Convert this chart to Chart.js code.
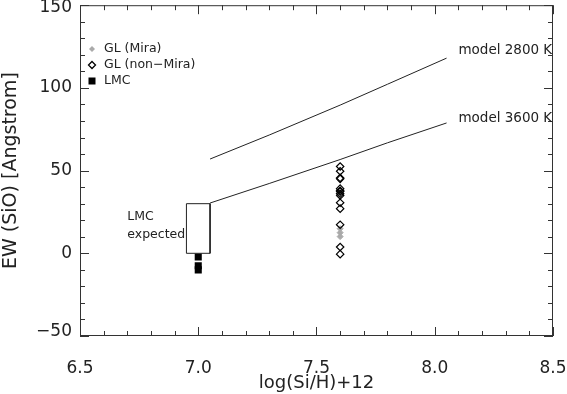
<!DOCTYPE html>
<html>
<head>
<meta charset="utf-8">
<script src="https://cdn.jsdelivr.net/npm/chart.js@4/dist/chart.umd.min.js"></script>
<style>
  html, body { margin: 0; padding: 0; background: #fff; }
  canvas { display: block; }
</style>
</head>
<body>
<canvas id="ewChart" width="567" height="394"></canvas>
<script>
// Model curves (log(Si/H)+12 vs EW)
const MODEL_X = [7.05, 7.3, 7.6, 7.8, 8.05];
const MODEL_2800_EW = [57, 71.5, 89.6, 102.2, 118];
const MODEL_3600_EW = [30.4, 42.2, 56.7, 66.8, 78.8];

// LMC expected range box
const BOX_X = [6.95, 6.95, 7.05, 7.05, 6.95];
const BOX_EW = [0, 30, 30, 0, 0];

// Galactic stars, all at solar Si abundance
const GL_X = 7.6;
const NONMIRA_EW = [52.5, 49.6, 45.6, 45, 39.1, 37.8, 37.3, 36, 34.9, 30.6, 27, 17.3, 3.8, -0.5];
const MIRA_EW = [14.9, 12.5, 10.1];

// LMC stars
const LMC_X = 7.0;
const LMC_EW = [-2.2, -7.5, -10];

const X_TICKS = [6.5, 7.0, 7.5, 8.0, 8.5];
const Y_TICKS = [-50, 0, 50, 100, 150];

const INK = "#222";
const FONT = "'DejaVu Sans', sans-serif";

const toPoints = (xs, ys) => xs.map((x, i) => ({ x: x, y: ys[i] }));

// no automatic label padding: the plot box is fixed like the original
const zeroPad = (s) => { s.paddingLeft = 0; s.paddingRight = 0; s.paddingTop = 0; s.paddingBottom = 0; };

// Box, inward ticks, y labels, legend and text labels
const framePlugin = {
  id: "frame",
  afterDraw(chart) {
    const { ctx, chartArea: a, scales: { x, y } } = chart;
    ctx.save();
    ctx.strokeStyle = "#333";
    ctx.lineWidth = 1;
    ctx.strokeRect(a.left + 0.5, a.top + 0.5, a.right - a.left - 1, a.bottom - a.top - 1);

    ctx.beginPath();
    for (let v = 6.5; v <= 8.5001; v += 0.1) {
      const px = Math.round(x.getPixelForValue(v)) + 0.5;
      const major = Math.abs(v * 2 - Math.round(v * 2)) < 1e-6;
      const len = major ? 9 : 5;
      ctx.moveTo(px, a.bottom); ctx.lineTo(px, a.bottom - len);
      ctx.moveTo(px, a.top); ctx.lineTo(px, a.top + len);
    }
    for (let v = -50; v <= 150; v += 10) {
      const py = Math.round(y.getPixelForValue(v)) + 0.5;
      const len = v % 50 === 0 ? 9 : 5;
      ctx.moveTo(a.left, py); ctx.lineTo(a.left + len, py);
      ctx.moveTo(a.right, py); ctx.lineTo(a.right - len, py);
    }
    ctx.stroke();

    // y tick labels, kept inside the canvas like the original
    ctx.fillStyle = INK;
    ctx.font = "17px " + FONT;
    ctx.textAlign = "right";
    ctx.textBaseline = "middle";
    Y_TICKS.forEach(v => {
      const py = Math.min(Math.max(y.getPixelForValue(v), 8), 332);
      ctx.fillText(v < 0 ? "\u2212" + Math.abs(v) : String(v), a.left - 8, py);
    });

    // legend
    ctx.textAlign = "left";
    ctx.font = "12.5px " + FONT;
    const lx = 92, ly = [49, 65, 81];
    ctx.fillStyle = "#aaa";
    ctx.beginPath();
    ctx.moveTo(lx, ly[0] - 3); ctx.lineTo(lx + 3, ly[0]); ctx.lineTo(lx, ly[0] + 3); ctx.lineTo(lx - 3, ly[0]);
    ctx.closePath(); ctx.fill();
    ctx.strokeStyle = "#000";
    ctx.lineWidth = 1.3;
    ctx.beginPath();
    ctx.moveTo(lx, ly[1] - 3.5); ctx.lineTo(lx + 3.5, ly[1]); ctx.lineTo(lx, ly[1] + 3.5); ctx.lineTo(lx - 3.5, ly[1]);
    ctx.closePath(); ctx.stroke();
    ctx.fillStyle = "#000";
    ctx.fillRect(lx - 3.5, ly[2] - 3.5, 7, 7);
    ctx.fillStyle = INK;
    ctx.fillText("GL (Mira)", 104, ly[0]);
    ctx.fillText("GL (non\u2212Mira)", 104, ly[1]);
    ctx.fillText("LMC", 104, ly[2]);

    // curve and box labels
    ctx.font = "13.5px " + FONT;
    ctx.fillText("model 2800 K", x.getPixelForValue(8.1), y.getPixelForValue(122.4));
    ctx.fillText("model 3600 K", x.getPixelForValue(8.1), y.getPixelForValue(81.8));
    ctx.font = "12.5px " + FONT;
    ctx.fillText("LMC", x.getPixelForValue(6.7), y.getPixelForValue(22));
    ctx.fillText("expected", x.getPixelForValue(6.7), y.getPixelForValue(11.3));
    ctx.restore();
  }
};

const lineSet = (data) => ({
  data: data,
  showLine: true,
  borderColor: INK,
  borderWidth: 1,
  pointRadius: 0,
  tension: 0,
});

new Chart(document.getElementById("ewChart"), {
  type: "scatter",
  data: {
    datasets: [
      lineSet(toPoints(MODEL_X, MODEL_2800_EW)),
      lineSet(toPoints(MODEL_X, MODEL_3600_EW)),
      lineSet(toPoints(BOX_X, BOX_EW)),
      {
        data: NONMIRA_EW.map(v => ({ x: GL_X, y: v })),
        pointStyle: "rectRot",
        pointRadius: 3.7,
        backgroundColor: "rgba(0,0,0,0)",
        borderColor: "#000",
        borderWidth: 1.2,
      },
      {
        data: MIRA_EW.map(v => ({ x: GL_X, y: v })),
        pointStyle: "rectRot",
        pointRadius: 3,
        backgroundColor: "#aaa",
        borderColor: "#aaa",
        borderWidth: 1,
      },
      {
        data: LMC_EW.map(v => ({ x: LMC_X, y: v })),
        pointStyle: "rect",
        pointRadius: 5,
        backgroundColor: "#000",
        borderColor: "#000",
        borderWidth: 0,
      },
    ],
  },
  options: {
    responsive: false,
    animation: false,
    layout: { padding: { top: 1, right: 14, left: 0, bottom: 0 } },
    plugins: {
      legend: { display: false },
      tooltip: { enabled: false },
    },
    scales: {
      x: {
        type: "linear",
        min: 6.5,
        max: 8.5,
        afterFit: (s) => { s.height = 58; zeroPad(s); },
        afterBuildTicks: (s) => { s.ticks = X_TICKS.map(v => ({ value: v })); },
        grid: { display: false },
        border: { display: false },
        ticks: {
          padding: 14,
          maxRotation: 0,
          color: INK,
          font: { family: FONT, size: 17 },
          callback: (v) => Number(v).toFixed(1),
        },
        title: {
          display: true,
          text: "log(Si/H)+12",
          color: INK,
          padding: 0,
          font: { family: FONT, size: 18 },
        },
      },
      y: {
        type: "linear",
        min: -50,
        max: 150,
        afterFit: (s) => { s.width = 80; zeroPad(s); },
        afterBuildTicks: (s) => { s.ticks = Y_TICKS.map(v => ({ value: v })); },
        grid: { display: false },
        border: { display: false },
        ticks: { display: false },
        title: {
          display: true,
          text: "EW (SiO) [Angstrom]",
          color: INK,
          padding: 0,
          font: { family: FONT, size: 19 },
        },
      },
    },
  },
  plugins: [framePlugin],
});
</script>
</body>
</html>
